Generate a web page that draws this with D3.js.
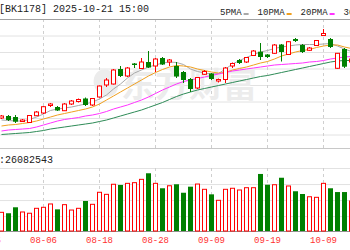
<!DOCTYPE html>
<html lang="zh">
<head>
<meta charset="UTF-8">
<title>BK1178 日K</title>
<script src="https://d3js.org/d3.v7.min.js"></script>
<style>
  body { margin: 0; background: #fff; }
  svg { display: block; }
  text { font-family: "Liberation Mono", "DejaVu Sans Mono", monospace; }
</style>
</head>
<body>
<svg id="chart"></svg>
<script>
const dates = ["07-29","07-30","07-31","08-01","08-04","08-05","08-06","08-07","08-08","08-11",
  "08-12","08-13","08-14","08-15","08-18","08-19","08-20","08-21","08-22","08-25",
  "08-26","08-27","08-28","08-29","09-01","09-02","09-03","09-04","09-05","09-08",
  "09-09","09-10","09-11","09-12","09-15","09-16","09-17","09-18","09-19","09-22",
  "09-23","09-24","09-25","09-26","09-29","09-30","10-09","10-10","10-13","10-14","10-15"];

const open = [1206,1212,1209,1195.5,1192.5,1212.9,1221,1243.5,1239,1227.9,
  1248,1255.5,1264.5,1245,1269,1305,1308,1353,1332,1369.5,
  1354.5,1374,1362,1386,1374,1362,1344,1323,1296,1337.1,
  1339.5,1317,1321.5,1362,1380,1374,1393.5,1404.9,1396.5,1400.1,
  1426.5,1396.5,1443,1425,1409.1,1423.5,1453.5,1443,1355.1,1413,1374];
const high = [1215,1215,1215,1203,1215,1227,1242,1251,1242,1251,
  1260,1264.5,1267.5,1266,1303.5,1326,1353,1362,1359,1371,
  1386,1407,1386,1389,1383,1374,1347,1326,1329,1350,
  1341,1324.5,1359,1372.5,1383,1389,1410,1431,1398,1428,
  1428,1437,1446,1428,1419,1440,1473,1446,1401,1416,1389];
const low = [1203,1197,1191,1194,1191,1212,1218,1239,1227,1227,
  1245,1252.5,1242,1242,1267.5,1299,1306.5,1329,1329,1356,
  1353,1356,1344,1365,1362,1326,1311,1284,1293,1335,
  1320,1312.5,1311,1356,1368,1371,1392,1380,1386,1398,
  1375.5,1395,1434,1401,1407,1422,1452,1416,1353,1356,1371];
const close = [1212,1200,1194.9,1200,1213.5,1224,1239.9,1248,1228.5,1248,
  1257,1261.5,1245,1264.5,1302,1320,1350,1332,1356,1365,
  1374,1357.5,1383,1366.5,1380,1330.5,1320,1293,1327.5,1345.5,
  1323,1321.5,1356,1369.5,1371,1387.5,1407,1389,1389,1425,
  1404,1434.9,1437,1404,1416,1438.5,1459.5,1419,1400.1,1359.9,1383];

// volume in shares, and whether the bar is drawn red (1) or green (0)
const volume = [16300000,15500000,20700000,16600000,15500000,19800000,20700000,23600000,18900000,23000000,
  18300000,19800000,26200000,23300000,33800000,32000000,40800000,40200000,41600000,42200000,
  45100000,50400000,41600000,37300000,39500000,40800000,33400000,38700000,41000000,36400000,
  32000000,26800000,36400000,37300000,35800000,37800000,37800000,49800000,40400000,40400000,
  46500000,39300000,34700000,32300000,29900000,29400000,41600000,37300000,34000000,34000000,26200000];
const volUp = [1,0,0,1,1,1,1,1,0,1, 1,1,0,1,1,1,1,0,1,1, 1,0,1,0,1,0,0,0,1,1,
  0,1,1,1,1,1,1,0,0,1, 0,1,0,0,1,1,1,0,0,0, 1];

const ma5 = [1200,1198.5,1197,1197,1201.5,1209,1218,1228.5,1233,1236,
  1239,1243.5,1248,1254,1263,1275,1293,1308,1326,1341,
  1350,1359,1365,1371,1374,1372.5,1366.5,1353,1345.5,1341,
  1338,1339.5,1353,1368,1378.5,1387.5,1396.5,1404,1408.5,1414.5,
  1419,1422,1425,1426.5,1426.5,1426.5,1428,1429.5,1422,1413,1405.5];
const ma10 = [1182,1185,1186.5,1189.5,1192.5,1197,1203,1209,1215,1219.5,
  1224,1228.5,1233,1239,1248,1260,1272,1284,1296,1308,
  1320,1332,1342.5,1351.5,1359,1363.5,1362,1359,1353,1348.5,
  1344,1341,1342.5,1350,1354.5,1359,1365,1371,1375.5,1383,
  1392,1398,1404,1408.5,1411.5,1417.5,1422,1425,1425,1419,1414.5];
const ma20 = [1167,1170,1171.5,1173,1174.5,1179,1185,1191,1197,1201.5,
  1204.5,1207.5,1212,1215,1219.5,1225.5,1233,1239,1245,1252.5,
  1260,1269,1279.5,1290,1299,1308,1315.5,1320,1324.5,1329,
  1333.5,1338,1342.5,1347,1350,1353,1356,1359,1362,1365,
  1366.5,1368,1369.5,1371,1374,1375.5,1378.5,1383,1386,1389,1390.5];
const ma30 = [1156.5,1158,1159.5,1161,1162.5,1165.5,1168.5,1173,1176,1179,
  1182,1185,1188,1191,1195.5,1200,1206,1212,1218,1224,
  1230,1237.5,1245,1252.5,1261.5,1270.5,1278,1284,1290,1294.5,
  1299,1303.5,1308,1312.5,1317,1321.5,1326,1330.5,1333.5,1338,
  1342.5,1347,1351.5,1356,1360.5,1365,1369.5,1374,1377,1378.5,1378.5];

const tickDates = ["08-06","08-18","08-28","09-09","09-19","10-09"];
const maNames = ["5PMA","10PMA","20PMA","30PMA"];
const maColors = ["#a8a8a8","#f0a020","#ff33ff","#2e8b57"];
const lastVolume = "量:26082543";

const width = 350, height = 250;
const up = "#ff0000", down = "#008000";

const svg = d3.select("#chart").attr("width", width).attr("height", height);

const x = d3.scaleBand().domain(dates).range([-2, 355]).padding(0);
const cx = d => x(d) + x.bandwidth() / 2;
const y = d3.scaleLinear().domain([1116, 1503]).range([148, 19]);
const yv = d3.scaleLinear().domain([0, 55000000]).range([231, 168]);

// horizontal grid, main panel
svg.append("g")
  .call(d3.axisRight(y).tickValues(d3.range(1, 8).map(k => 1503 - k * 49.5)).tickSize(width).tickFormat(""))
  .call(g => g.select(".domain").remove())
  .call(g => g.selectAll("line").attr("stroke", "#e2e2e2"));

// horizontal grid, volume panel
svg.append("g")
  .call(d3.axisRight(yv).tickValues([13e6, 27e6, 41e6, 55e6]).tickSize(width).tickFormat(""))
  .call(g => g.select(".domain").remove())
  .call(g => g.selectAll("line").attr("stroke", "#e2e2e2"));

// vertical dashed grid
[[19, 148], [168, 231]].forEach(([t, b]) => {
  svg.append("g").selectAll("line").data(tickDates).join("line")
    .attr("x1", d => cx(d)).attr("x2", d => cx(d))
    .attr("y1", t).attr("y2", b)
    .attr("stroke", "#cfcfcf").attr("stroke-dasharray", "3,3");
});

// panel borders
svg.append("line").attr("x1", 0).attr("x2", width).attr("y1", 19.5).attr("y2", 19.5).attr("stroke", "#a0a0a0");
svg.append("line").attr("x1", 0).attr("x2", width).attr("y1", 148.5).attr("y2", 148.5).attr("stroke", "#c8c8c8");
svg.append("line").attr("x1", 0).attr("x2", width).attr("y1", 231.5).attr("y2", 231.5).attr("stroke", "#909090");

// watermark
const wm = svg.append("g").attr("fill", "#ececec");
wm.append("ellipse").attr("cx", 106).attr("cy", 83).attr("rx", 12).attr("ry", 14)
  .attr("transform", "rotate(-25,106,83)");
wm.append("text").attr("x", 121).attr("y", 97)
  .style("font-family", "'Noto Sans CJK SC'").style("font-weight", "bold").style("font-size", "34px")
  .text("东方财富");

const rows = dates.map((d, i) => ({ d, o: open[i], h: high[i], l: low[i], c: close[i], v: volume[i], vu: volUp[i] }));

// moving averages
[ma5, ma10, ma20, ma30].forEach((s, k) => {
  svg.append("path")
    .datum(s)
    .attr("fill", "none")
    .attr("stroke", maColors[k])
    .attr("stroke-width", 1)
    .attr("d", d3.line().x((v, i) => cx(dates[i])).y(v => y(v)));
});

// candles
const candle = svg.append("g").selectAll("g").data(rows).join("g");
candle.append("line")
  .attr("x1", r => cx(r.d)).attr("x2", r => cx(r.d))
  .attr("y1", r => y(r.h)).attr("y2", r => y(r.l))
  .attr("stroke", r => r.c >= r.o ? up : down);
candle.append("rect")
  .attr("x", r => r.c >= r.o ? cx(r.d) - 2 : cx(r.d) - 2.5)
  .attr("width", r => r.c >= r.o ? 4 : 5)
  .attr("y", r => y(Math.max(r.o, r.c)))
  .attr("height", r => Math.max(Math.abs(y(r.o) - y(r.c)), 1))
  .attr("fill", r => r.c >= r.o ? "#fff" : down)
  .attr("stroke", r => r.c >= r.o ? up : "none");

// volume bars
svg.append("g").selectAll("rect").data(rows).join("rect")
  .attr("x", r => r.vu ? cx(r.d) - 2 : cx(r.d) - 2.5)
  .attr("width", r => r.vu ? 4 : 5)
  .attr("y", r => yv(r.v))
  .attr("height", r => yv(0) - yv(r.v))
  .attr("fill", r => r.vu ? "#fff" : down)
  .attr("stroke", r => r.vu ? up : "none");

// header
svg.append("text").attr("x", -1).attr("y", 12).attr("font-size", 10).attr("fill", "#222")
  .text("[BK1178] 2025-10-21 15:00");

const legend = svg.append("g").attr("font-size", 9).attr("fill", "#222");
let lx = 220;
maNames.forEach((n, k) => {
  legend.append("text").attr("x", lx).attr("y", 15).text(n);
  lx += n.length * 5.4 + 2;
  legend.append("rect").attr("x", lx).attr("y", 13).attr("width", 5).attr("height", 2).attr("fill", maColors[k]);
  lx += 14;
});

// volume caption
svg.append("text").attr("x", -11).attr("y", 163).attr("font-size", 10).attr("fill", "#222").text(lastVolume);

// date labels
svg.append("g").selectAll("text").data(["07-25"].concat(tickDates)).join("text")
  .attr("x", (d, i) => i === 0 ? cx(dates[0]) - 2 * x.step() : cx(d))
  .attr("y", 243)
  .attr("text-anchor", "middle")
  .attr("font-size", 9)
  .attr("fill", "#ff3030")
  .text(d => d);
</script>
</body>
</html>
